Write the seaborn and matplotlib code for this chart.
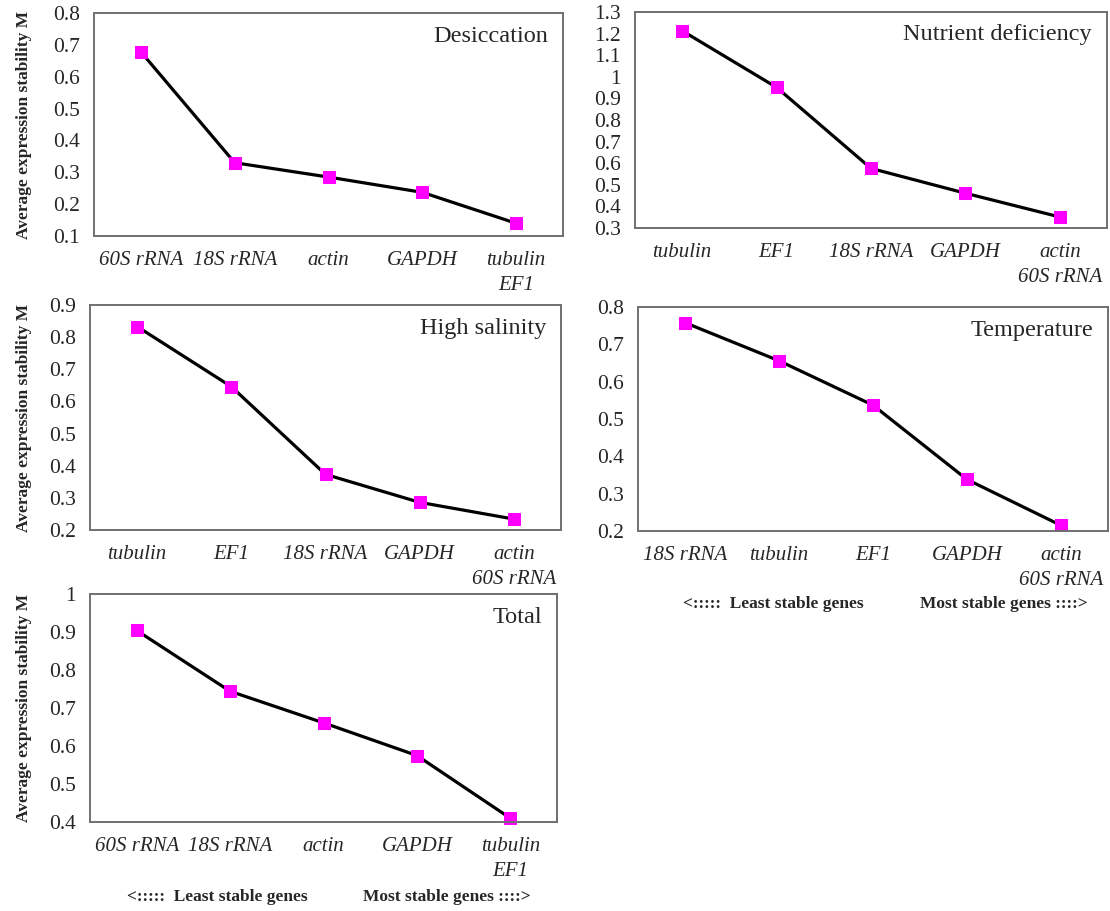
import matplotlib
matplotlib.use('Agg')
import matplotlib.pyplot as plt
import seaborn as sns
import pandas as pd
from matplotlib.ticker import MultipleLocator, FuncFormatter

# gene ranking per condition (least stable -> most stable) and average M values
desic_genes = ['60S rRNA', '18S rRNA', 'actin', 'GAPDH', 'tubulin\nEF1']
desic_m = [0.678, 0.33, 0.285, 0.237, 0.14]

nutr_genes = ['tubulin', 'EF1', '18S rRNA', 'GAPDH', 'actin\n60S rRNA']
nutr_m = [1.213, 0.951, 0.576, 0.461, 0.351]

salin_genes = ['tubulin', 'EF1', '18S rRNA', 'GAPDH', 'actin\n60S rRNA']
salin_m = [0.833, 0.646, 0.373, 0.286, 0.234]

temp_genes = ['18S rRNA', 'tubulin', 'EF1', 'GAPDH', 'actin\n60S rRNA']
temp_m = [0.758, 0.656, 0.537, 0.338, 0.215]

total_genes = ['60S rRNA', '18S rRNA', 'actin', 'GAPDH', 'tubulin\nEF1']
total_m = [0.904, 0.744, 0.661, 0.575, 0.41]

sns.set_style('white')
plt.rcParams['font.family'] = ['Liberation Serif', 'DejaVu Serif']

W, H = 1110, 911
fig = plt.figure(figsize=(W / 100, H / 100), dpi=100)


def px_rect(l, t, r, b):
    return [l / W, 1 - b / H, (r - l) / W, (b - t) / H]


def panel(box, genes, vals, title, ylim, ylabel=True):
    ax = fig.add_axes(px_rect(*box))
    df = pd.DataFrame({'gene': genes, 'M': vals})
    sns.lineplot(data=df, x='gene', y='M', ax=ax, sort=False, color='black',
                 linewidth=2.3, marker='s', markersize=9,
                 markerfacecolor='#ff00ff', markeredgecolor='#ff00ff', clip_on=False)
    ax.set_xlim(-0.5, len(genes) - 0.5)
    ax.set_ylim(*ylim)
    ax.yaxis.set_major_locator(MultipleLocator(0.1))
    ax.yaxis.set_major_formatter(FuncFormatter(lambda v, p: '%g' % round(v, 1)))
    ax.set_xticks(range(len(genes)))
    ax.set_xticklabels(genes, fontstyle='italic', fontsize=15, linespacing=1.4)
    ax.set_xticks([i + 0.5 for i in range(len(genes) - 1)], minor=True)
    ax.tick_params(axis='x', which='major', length=0, pad=11)
    ax.tick_params(axis='x', which='minor', direction='in', length=5, color='#808080')
    ax.tick_params(axis='y', direction='in', length=5, color='#808080', labelsize=15.5, pad=10)
    for s in ax.spines.values():
        s.set_color('#707070')
        s.set_linewidth(1.4)
    w = box[2] - box[0]
    ax.text(1 - 15 / w, 0.895, title, transform=ax.transAxes, ha='right', va='center', fontsize=17.5)
    ax.set_xlabel('')
    if ylabel:
        ax.set_ylabel('Average expression stability M', fontweight='bold', fontsize=12.5)
        ax.yaxis.set_label_coords((32 - box[0]) / w, 0.5)
    else:
        ax.set_ylabel('')
    return ax


panel((94, 13, 563, 236), desic_genes, desic_m, 'Desiccation', (0.1, 0.8))
panel((635, 12, 1107, 228), nutr_genes, nutr_m, 'Nutrient deficiency', (0.3, 1.3), ylabel=False)
panel((90, 305, 561, 530), salin_genes, salin_m, 'High salinity', (0.2, 0.9))
panel((638, 307, 1108, 531), temp_genes, temp_m, 'Temperature', (0.2, 0.8), ylabel=False)
panel((90, 594, 557, 822), total_genes, total_m, 'Total', (0.4, 1.0))

# direction notes under the bottom panels
note_kw = dict(fontweight='bold', fontsize=12.5, va='center')
fig.text(127 / W, 1 - 897 / H, '<:::::  Least stable genes', ha='left', **note_kw)
fig.text(531 / W, 1 - 897 / H, 'Most stable genes ::::>', ha='right', **note_kw)
fig.text(683 / W, 1 - 604 / H, '<:::::  Least stable genes', ha='left', **note_kw)
fig.text(1088 / W, 1 - 604 / H, 'Most stable genes ::::>', ha='right', **note_kw)

fig.savefig('out.png', dpi=100)
